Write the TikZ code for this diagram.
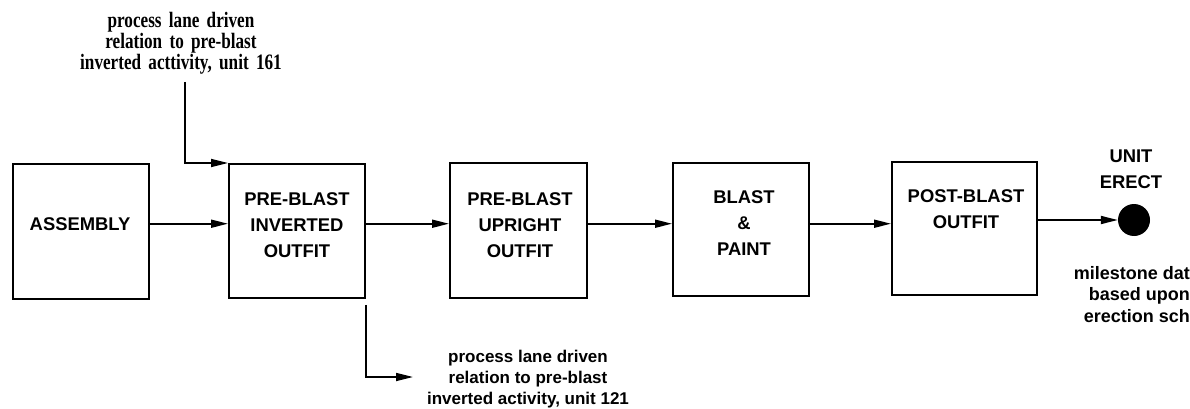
\documentclass[tikz,border=0pt]{standalone}
\usepackage{fontspec}
\usepackage{tikz}
\usetikzlibrary{arrows.meta}
\setmainfont{Liberation Sans}
\newfontfamily\notefont[FakeStretch=0.78,WordSpace=1.7]{Liberation Serif}

\begin{document}
\begin{tikzpicture}[x=1pt,y=-1pt,
		stage/.style={draw, line width=1.8pt, anchor=north west, inner sep=0pt},
		stagetext/.style={anchor=north, inner sep=0pt, align=center, font=\fontsize{18.4}{26}\selectfont\bfseries},
		sidenote/.style={inner sep=0pt, align=center, font=\fontsize{17}{21}\selectfont\bfseries},
		flow/.style={line width=1.7pt, -{Triangle[length=17pt,width=8pt]}}]
	\useasboundingbox (0,0) rectangle (1190,409);
	
	\node[stage, minimum width=136pt, minimum height=135pt] (asm) at (12,163) {};
	\node[stage, minimum width=136pt, minimum height=134pt] (inv) at (228,163) {};
	\node[stage, minimum width=137pt, minimum height=135pt] (upr) at (449,162) {};
	\node[stage, minimum width=136pt, minimum height=133pt] (blast) at (672,162) {};
	\node[stage, minimum width=145pt, minimum height=133pt] (post) at (891,161) {};
	
	\node[stagetext] (asm-t) at (80,217) {ASSEMBLY};
	\node[stagetext] (inv-t) at (297,192) {PRE-BLAST\\INVERTED\\OUTFIT};
	\node[stagetext] (upr-t) at (520,192) {PRE-BLAST\\UPRIGHT\\OUTFIT};
	\node[stagetext] (blast-t) at (744,190) {BLAST\\\&\\PAINT};
	\node[stagetext] (post-t) at (966,189) {POST-BLAST\\OUTFIT};
	
	% milestone at the end of the lane
	\node[circle, fill, minimum size=32pt, inner sep=0pt] (erect) at (1134,220) {};
	\node[stagetext] (erect-t) at (1131,150) {UNIT\\ERECT};
	\node[sidenote, font=\fontsize{18}{21.5}\selectfont\bfseries, align=right, anchor=north east] (stone) at (1190,266) {milestone dat\\based upon\\erection sch};
	
	\node[sidenote, font=\notefont\fontsize{22}{21}\selectfont\bfseries, anchor=north] (upper) at (181,12) {process lane driven\\relation to pre-blast\\inverted acttivity, unit 161};
	\node[sidenote, anchor=north] (lower) at (528,350) {process lane driven\\relation to pre-blast\\inverted activity, unit 121};
	\coordinate (upper-in) at (185,82);
	\coordinate (lower-out) at (413,377);
	
	\draw[flow] (upper-in) |- (inv.north west);
	\draw[flow] (asm.east |- asm-t) -- (inv.west |- asm-t);
	\draw[flow] (inv.east |- asm-t) -- (upr.west |- asm-t);
	\draw[flow] (upr.east |- asm-t) -- (blast.west |- asm-t);
	\draw[flow] (blast.east |- asm-t) -- (post.west |- asm-t);
	\draw[flow] (post.east |- erect) -- (erect);
	\draw[flow] ([yshift=-6pt]inv.south east) |- (lower-out);
\end{tikzpicture}
\end{document}
